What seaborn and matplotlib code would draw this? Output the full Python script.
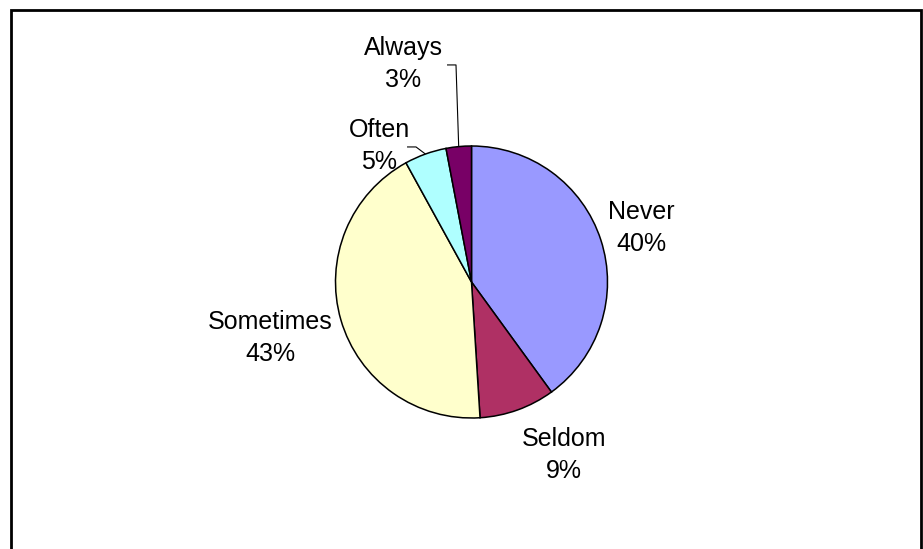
import matplotlib
matplotlib.use("Agg")
import matplotlib.pyplot as plt
import seaborn as sns
import numpy as np
from matplotlib.patches import Rectangle

# Survey responses (percent of respondents)
categories = ["Never", "Seldom", "Sometimes", "Often", "Always"]
shares = [40, 9, 43, 5, 3]
slice_colors = ["#9999FF", "#AF3064", "#FFFFCC", "#AFFFFF", "#780066"]

sns.set_theme(style="white")
plt.rcParams["font.family"] = ["Liberation Sans", "DejaVu Sans"]

W, H, DPI = 923, 549, 100
fig = plt.figure(figsize=(W / DPI, H / DPI), dpi=DPI)
fig.patch.set_facecolor("white")

# Pie centre and radius in pixels
cx, cy, rad = 471.5, 282.0, 136.0
ax = fig.add_axes([0, 0, 1, 1])

palette = sns.color_palette(slice_colors)
wedges, _ = ax.pie(
    shares,
    colors=palette,
    startangle=90,
    counterclock=False,
    radius=1.0,
    wedgeprops=dict(edgecolor="black", linewidth=1.1),
    frame=True,
)
ax.set_xlim(-cx / rad, (W - cx) / rad)
ax.set_ylim(-(H - cy) / rad, cy / rad)
ax.set_aspect("auto")
ax.set_axis_off()

# Label centres in radius units
label_pos = {
    "Never": (1.246, 0.396),
    "Seldom": (0.680, -1.272),
    "Sometimes": (-1.482, -0.412),
    "Often": (-0.680, 1.000),
    "Always": (-0.504, 1.603),
}
total = sum(shares)
for name, val in zip(categories, shares):
    x, y = label_pos[name]
    ax.text(x, y, f"{name}\n{round(100 * val / total)}%", ha="center", va="center",
            fontsize=18, color="black", linespacing=1.45)

# Leader lines for the two narrow slices
leaders = {"Often": (-0.474, -0.408, 0.993), "Always": (-0.180, -0.114, 1.596)}
for w, name in zip(wedges, categories):
    if name in leaders:
        x0, x1, yl = leaders[name]
        mid = np.deg2rad((w.theta1 + w.theta2) / 2)
        ex, ey = np.cos(mid), np.sin(mid)
        ax.plot([x0, x1, ex], [yl, yl, ey], color="black", lw=0.8,
                solid_capstyle="butt")

# Chart frame (open at the bottom edge of the canvas)
fig.patches.append(Rectangle((10.5 / W, -0.05), (921 - 10.5) / W, (H - 10) / H + 0.05,
                             transform=fig.transFigure, fill=False,
                             edgecolor="black", linewidth=2.0))

fig.savefig("out.png", dpi=DPI, facecolor="white")
